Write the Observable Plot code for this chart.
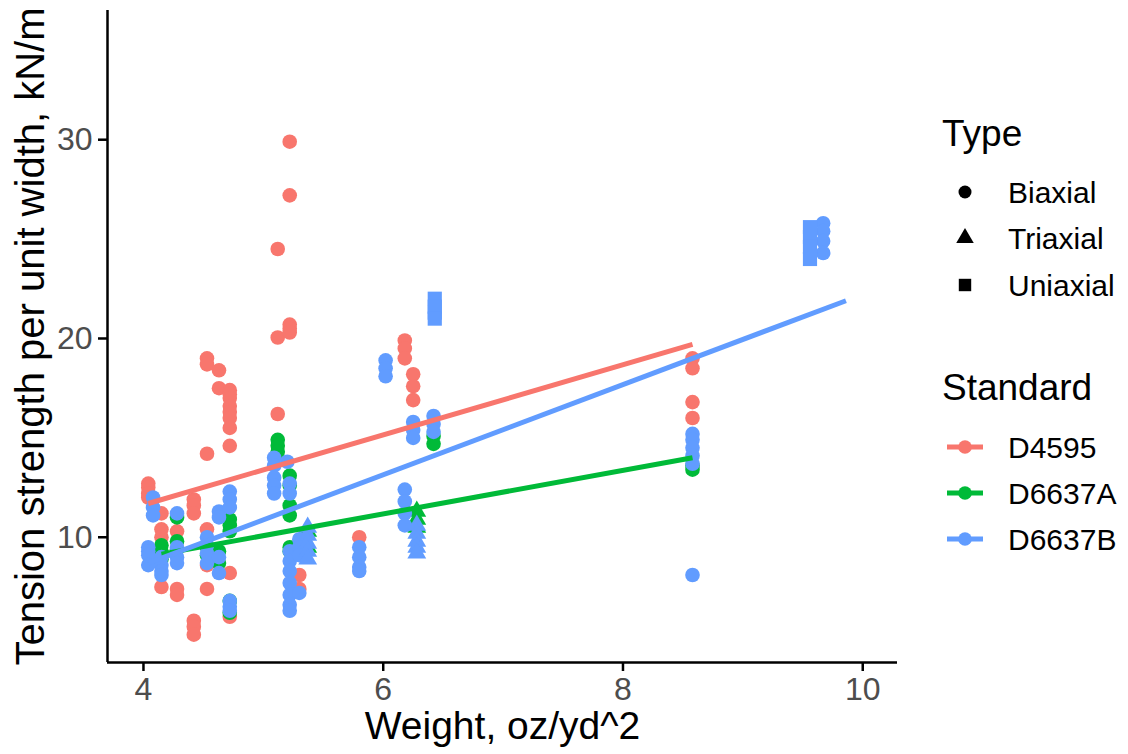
<!DOCTYPE html>
<html>
<head>
<meta charset="utf-8">
<script src="https://cdn.jsdelivr.net/npm/d3@7"></script>
<script src="https://cdn.jsdelivr.net/npm/@observablehq/plot@0.6"></script>
<style>
  html, body { margin: 0; padding: 0; background: white; }
  #wrap { position: relative; width: 1128px; height: 754px; overflow: hidden; font-family: 'Liberation Sans', Arial, sans-serif; }
  #chart { position: absolute; left: 0; top: 0; }
  #legend { position: absolute; left: 910px; top: 0; }
</style>
</head>
<body>
<div id="wrap"><div id="chart"></div><svg id="legend" width="218" height="754"></svg></div>
<script>
const standards = ["D4595", "D6637A", "D6637B"];
const standardColors = ["#F8766D", "#00BA38", "#619CFF"];
const types = ["Biaxial", "Triaxial", "Uniaxial"];
const typeSymbols = ["circle", "triangle", "square"];
const xTicks = [4, 6, 8, 10];
const yTicks = [10, 20, 30];
const xTitle = "Weight, oz/yd^2";
const yTitle = "Tension strength per unit width, kN/m";

// [weight, [tension values]]
const d4595Biaxial = [
  [4.04, [12.7, 12.5, 12.2, 12.0]],
  [4.15, [11.2, 10.4, 10.0, 7.5]],
  [4.28, [10.3, 7.4, 7.1]],
  [4.42, [11.9, 11.6, 11.2, 5.8, 5.5, 5.1]],
  [4.53, [19.0, 18.7, 14.2, 10.4, 8.6, 7.4]],
  [4.63, [18.4, 17.5]],
  [4.72, [17.4, 17.2, 17.0, 16.6, 16.3, 16.0, 15.5, 14.6, 8.2, 6.0]],
  [5.12, [24.5, 20.05, 16.2]],
  [5.22, [29.9, 27.2, 20.7, 20.5, 20.3]],
  [5.30, [9.25, 8.1, 7.4]],
  [5.80, [10.0]],
  [6.18, [19.9, 19.5, 19.0]],
  [6.25, [18.2, 17.6, 16.9]],
  [8.58, [19.0, 18.5, 16.8, 16.0]]
];
const d6637aBiaxial = [
  [4.15, [9.6, 9.3, 8.9]],
  [4.28, [11.0, 9.8, 9.4]],
  [4.53, [9.5, 9.1]],
  [4.63, [9.3, 8.7]],
  [4.72, [10.9, 10.6, 10.3, 6.8, 6.2]],
  [5.12, [14.9, 14.6, 14.3]],
  [5.22, [13.1, 12.6, 11.6, 11.1, 9.5, 9.3]],
  [6.42, [15.1, 14.7]],
  [8.58, [13.6, 13.4]]
];
const d6637aTriaxial = [
  [5.37, [10.3, 9.5]],
  [6.28, [11.3, 10.9, 10.5]]
];
const d6637bBiaxial = [
  [4.04, [9.5, 9.3, 9.1, 8.6]],
  [4.08, [12.0, 11.5, 11.1]],
  [4.15, [9.0, 8.6, 8.3, 8.1]],
  [4.28, [11.2, 9.5, 9.0, 8.7]],
  [4.53, [10.0, 9.6, 9.2, 8.7]],
  [4.63, [11.3, 11.0, 9.0, 8.2]],
  [4.72, [12.3, 11.9, 11.5, 6.8, 6.5, 6.3]],
  [5.09, [14.0, 13.6, 13.0, 12.6, 12.2]],
  [5.20, [13.8]],
  [5.22, [12.7, 12.2, 9.3, 8.8, 8.3, 7.7, 7.1, 6.6, 6.3]],
  [5.30, [9.9, 9.5, 9.1, 7.2]],
  [5.80, [9.5, 9.0, 8.5, 8.3]],
  [6.02, [18.9, 18.5, 18.1]],
  [6.18, [12.4, 11.8, 11.2, 10.6]],
  [6.25, [15.8, 15.4, 15.0]],
  [6.42, [16.1, 15.7, 15.3]],
  [8.58, [15.2, 14.9, 14.5, 14.1, 13.7, 8.1]],
  [9.67, [25.8, 25.4, 24.9, 24.3]]
];
const d6637bTriaxial = [
  [5.37, [10.5, 10.1, 9.7, 9.3, 8.9]],
  [6.28, [10.6, 10.2, 9.8, 9.5, 9.2]]
];
const d6637bUniaxial = [
  [6.43, [22.0, 21.6, 21.3, 21.0]],
  [9.56, [25.6, 25.1, 24.6, 24.0]]
];

// linear fit per standard: start/end weight and tension
const fitStandard = ["D4595", "D6637A", "D6637B"];
const fitX0 = [4.04, 4.15, 4.04];
const fitY0 = [11.7, 9.15, 8.7];
const fitX1 = [8.58, 8.58, 9.86];
const fitY1 = [19.7, 14.0, 21.9];

function flatten(rows, standard, type) {
  return rows.flatMap(([w, ts]) => ts.map(t => ({weight: w, tension: t, standard, type})));
}
const series = [
  {data: flatten(d4595Biaxial, "D4595", "Biaxial"), r: 7.3},
  {data: flatten(d6637aBiaxial, "D6637A", "Biaxial"), r: 7.3},
  {data: flatten(d6637aTriaxial, "D6637A", "Triaxial"), r: 7},
  {data: flatten(d6637bBiaxial, "D6637B", "Biaxial"), r: 7.3},
  {data: flatten(d6637bTriaxial, "D6637B", "Triaxial"), r: 7},
  {data: flatten(d6637bUniaxial, "D6637B", "Uniaxial"), r: 8}
];
const fits = fitStandard.map((s, i) => ({standard: s, x1: fitX0[i], y1: fitY0[i], x2: fitX1[i], y2: fitY1[i]}));

const xDomain = [3.7, 10.29];
const yDomain = [3.7, 36.5];

const chart = Plot.plot({
  width: 910,
  height: 754,
  marginLeft: 107,
  marginRight: 13,
  marginTop: 10,
  marginBottom: 92,
  style: {fontFamily: "'Liberation Sans', Arial, sans-serif", background: "white", overflow: "visible"},
  x: {domain: xDomain},
  y: {domain: yDomain},
  color: {domain: standards, range: standardColors},
  symbol: {domain: types, range: typeSymbols},
  marks: [
    ...series.map(s => Plot.dot(s.data, {x: "weight", y: "tension", fill: "standard", symbol: "type", r: s.r, stroke: "none"})),
    Plot.link(fits, {x1: "x1", y1: "y1", x2: "x2", y2: "y2", stroke: "standard", strokeWidth: 5}),
    Plot.ruleX([xDomain[0]], {stroke: "black", strokeWidth: 2.5}),
    Plot.ruleY([yDomain[0]], {stroke: "black", strokeWidth: 2.5}),
    Plot.axisX({ticks: xTicks, tickFormat: d3.format("d"), tickSize: 9, tickPadding: 6, fontSize: 32, fill: "#4D4D4D", stroke: "black", strokeWidth: 2.5, label: null}),
    Plot.axisY({ticks: yTicks, tickFormat: d3.format("d"), tickSize: 9, tickPadding: 6, fontSize: 32, fill: "#4D4D4D", stroke: "black", strokeWidth: 2.5, label: null}),
    Plot.text([xTitle], {text: d => d, frameAnchor: "bottom", lineAnchor: "middle", dy: 64, fontSize: 39, fill: "black"}),
    Plot.text([yTitle], {text: d => d, frameAnchor: "left", textAnchor: "middle", lineAnchor: "middle", dx: -76, rotate: -90, fontSize: 40, fill: "black"})
  ]
});
document.getElementById("chart").appendChild(chart);

// Legend
const lg = d3.select("#legend").style("font-family", "'Liberation Sans', Arial, sans-serif");
lg.append("text").attr("x", 32).attr("y", 146).attr("font-size", 37).text("Type");
const typeY = [192, 238, 285];
const symSize = [Math.PI * 6.5 * 6.5, Math.PI * 6.5 * 6.5, Math.PI * 7 * 7];
const d3Sym = {circle: d3.symbolCircle, triangle: d3.symbolTriangle, square: d3.symbolSquare};
types.forEach((t, i) => {
  lg.append("path")
    .attr("transform", `translate(55,${typeY[i]})`)
    .attr("d", d3.symbol(d3Sym[typeSymbols[i]], symSize[i])())
    .attr("fill", "black");
  lg.append("text").attr("x", 98).attr("y", typeY[i] + 11).attr("font-size", 30).text(t);
});
lg.append("text").attr("x", 32).attr("y", 400).attr("font-size", 37).text("Standard");
const stdY = [447, 493, 539];
standards.forEach((s, i) => {
  lg.append("line").attr("x1", 37).attr("x2", 73).attr("y1", stdY[i]).attr("y2", stdY[i])
    .attr("stroke", standardColors[i]).attr("stroke-width", 5);
  lg.append("circle").attr("cx", 55).attr("cy", stdY[i]).attr("r", 6.8).attr("fill", standardColors[i]);
  lg.append("text").attr("x", 98).attr("y", stdY[i] + 11).attr("font-size", 30).text(s);
});
</script>
</body>
</html>
